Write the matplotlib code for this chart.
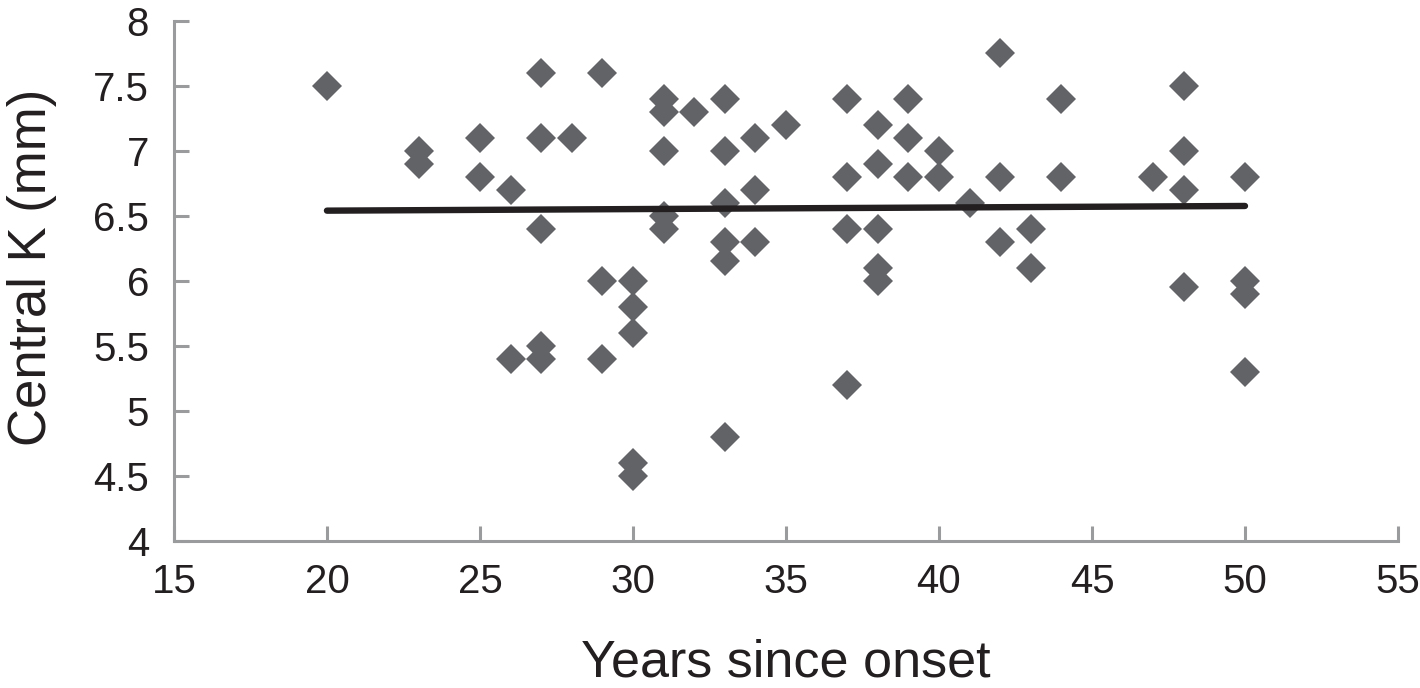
import matplotlib
matplotlib.use("Agg")
import matplotlib.pyplot as plt

plt.rcParams['font.family'] = ['Liberation Sans', 'DejaVu Sans']

years = [20,
         23, 23,
         25, 25,
         26, 26,
         27, 27, 27, 27, 27,
         28,
         29, 29, 29,
         30, 30, 30, 30, 30,
         31, 31, 31, 31, 31,
         32,
         33, 33, 33, 33, 33, 33,
         34, 34, 34,
         35,
         37, 37, 37, 37,
         38, 38, 38, 38, 38,
         39, 39, 39,
         40, 40,
         41,
         42, 42, 42,
         43, 43,
         44, 44,
         47,
         48, 48, 48, 48,
         50, 50, 50, 50]
central_k = [7.5,
             7.0, 6.9,
             7.1, 6.8,
             6.7, 5.4,
             7.6, 7.1, 6.4, 5.5, 5.4,
             7.1,
             7.6, 6.0, 5.4,
             6.0, 5.8, 5.6, 4.6, 4.5,
             7.4, 7.3, 7.0, 6.5, 6.4,
             7.3,
             7.4, 7.0, 6.6, 6.3, 6.15, 4.8,
             7.1, 6.7, 6.3,
             7.2,
             7.4, 6.8, 6.4, 5.2,
             7.2, 6.9, 6.4, 6.1, 6.0,
             7.4, 7.1, 6.8,
             7.0, 6.8,
             6.6,
             7.75, 6.8, 6.3,
             6.4, 6.1,
             7.4, 6.8,
             6.8,
             7.5, 7.0, 6.7, 5.95,
             6.8, 6.0, 5.9, 5.3]

trend_x = [20, 50]
trend_y = [6.541, 6.577]

x_ticks = [15, 20, 25, 30, 35, 40, 45, 50, 55]
y_ticks = [4, 4.5, 5, 5.5, 6, 6.5, 7, 7.5, 8]
y_tick_labels = ['4', '4.5', '5', '5.5', '6', '6.5', '7', '7.5', '8']

fig = plt.figure(figsize=(14.2, 6.88), dpi=100)
ax = fig.add_axes([0.1225, 0.2137, 0.862, 0.7558])

ax.plot(years, central_k, linestyle='none', marker='D', markersize=15.5,
        color='#626366', markeredgewidth=0, zorder=2)
ax.plot(trend_x, trend_y, color='#231f20', linewidth=4.6,
        solid_capstyle='round', zorder=3)

ax.set_xlim(15, 55)
ax.set_ylim(4, 8)
ax.set_xticks(x_ticks)
ax.set_yticks(y_ticks)
ax.set_yticklabels(y_tick_labels)

for s in ['top', 'right']:
    ax.spines[s].set_visible(False)
for s in ['left', 'bottom']:
    ax.spines[s].set_color('#9a9b9d')
    ax.spines[s].set_linewidth(2.2)

ax.tick_params(axis='both', direction='in', length=11, width=2.2,
               color='#9a9b9d', labelsize=29, labelcolor='#231f20')
ax.tick_params(axis='x', pad=16)
ax.tick_params(axis='y', pad=18)

ax.set_xlabel('Years since onset', fontsize=37.5, color='#231f20', labelpad=27)
ax.set_ylabel('Central K (mm)', fontsize=38, color='#231f20', labelpad=26)
ax.yaxis.label.set_y(0.527)

fig.savefig('out.png', dpi=100)
